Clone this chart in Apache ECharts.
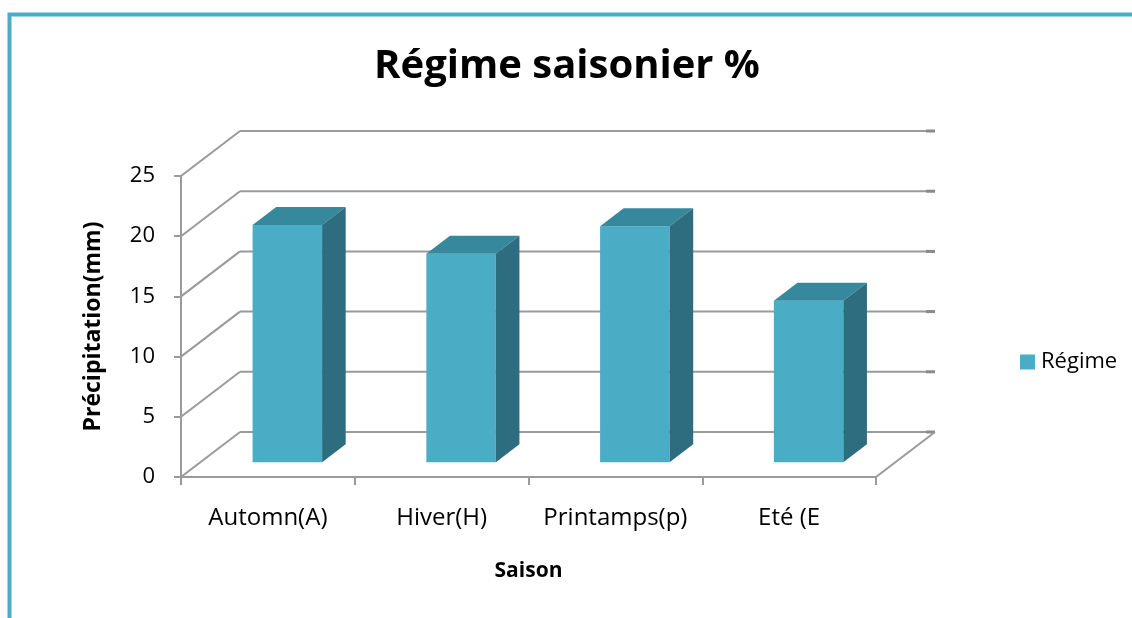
<!DOCTYPE html>
<html>
<head>
<meta charset="utf-8">
<script src="https://cdn.jsdelivr.net/npm/echarts@6/dist/echarts.min.js"></script>
<style>
  html, body { margin: 0; padding: 0; background: #fff; }
  #chart { width: 1132px; height: 618px; }
</style>
</head>
<body>
<div id="chart"></div>
<script>
  'use strict'
  /*-----data-----*/
  var saisons = ['Automn(A)', 'Hiver(H)', 'Printamps(p)', 'Eté (E'];
  var regime = [19.7, 17.3, 19.6, 13.4];
  var yTicks = [0, 5, 10, 15, 20, 25];

  /*-----3d look-----*/
  var DX = 59, DY = -45;          // depth offset of the back wall
  var D1 = 0.33, D2 = 0.73;       // bar depth (front / back, fraction of DX,DY)
  var BAR = 0.4;                  // bar width, fraction of the band
  var font = "'Open Sans', sans-serif";
  var gridColor = '#9a9a9a';

  function renderWalls(params, api) {
    var v = api.value(1);
    var band = api.size([1, 0])[0];
    var left = api.coord([0, v]);
    var right = api.coord([saisons.length - 1, v]);
    var xl = left[0] - band / 2, xr = right[0] + band / 2, y = left[1];
    var ls = { stroke: gridColor, lineWidth: 2 };
    var kids = [
      { type: 'line', shape: { x1: xl, y1: y, x2: xl + DX, y2: y + DY }, style: ls },
      { type: 'line', shape: { x1: xl + DX, y1: y + DY, x2: xr + DX, y2: y + DY }, style: ls },
      { type: 'line', shape: { x1: xr + DX - 9, y1: y + DY, x2: xr + DX, y2: y + DY }, style: { stroke: '#8a8a8a', lineWidth: 3 } }
    ];
    if (v === 0) {
      kids.push({ type: 'line', shape: { x1: xr, y1: y, x2: xr + DX, y2: y + DY }, style: ls });
    }
    return { type: 'group', children: kids };
  }

  function renderBar(params, api) {
    var i = api.value(0), v = api.value(1);
    var base = api.coord([i, 0]);
    var top = api.coord([i, v]);
    var band = api.size([1, 0])[0];
    var w = band * BAR;
    var x0 = base[0] - w / 2 + D1 * DX, x1 = x0 + w;
    var yb = base[1] + D1 * DY, yt = top[1] + D1 * DY;
    var ddx = (D2 - D1) * DX, ddy = (D2 - D1) * DY;
    return {
      type: 'group',
      children: [
        { type: 'rect', shape: { x: x0, y: yt, width: w, height: yb - yt }, style: { fill: '#4bacc6' } },
        { type: 'polygon', shape: { points: [[x0, yt], [x1, yt], [x1 + ddx, yt + ddy], [x0 + ddx, yt + ddy]] }, style: { fill: '#36889d' } },
        { type: 'polygon', shape: { points: [[x1, yt], [x1 + ddx, yt + ddy], [x1 + ddx, yb + ddy], [x1, yb]] }, style: { fill: '#2e6c7f' } }
      ]
    };
  }

  var chart = echarts.init(document.getElementById('chart'));

  var option = {
    backgroundColor: '#fff',
    animation: false,
    title: {
      text: 'Régime saisonier %',
      left: 562,
      textAlign: 'center',
      top: 42,
      textStyle: { fontFamily: font, fontSize: 40, fontWeight: 'bold', color: '#000' }
    },
    legend: {
      data: ['Régime'],
      left: 1015,
      top: 346,
      icon: 'rect',
      itemWidth: 15,
      itemHeight: 15,
      itemGap: 7,
      textStyle: { fontFamily: font, fontSize: 22, color: '#000', padding: [0, 0, 0, 1] }
    },
    grid: {
      left: 181,
      right: 256,
      top: 176,
      bottom: 141
    },
    xAxis: {
      type: 'category',
      data: saisons,
      name: 'Saison',
      nameLocation: 'middle',
      nameGap: 84,
      nameTextStyle: { fontFamily: font, fontSize: 21, fontWeight: 'bold', color: '#000' },
      axisLine: { lineStyle: { color: gridColor, width: 2 } },
      axisTick: { show: true, interval: 0, length: 8, lineStyle: { color: gridColor, width: 2 } },
      axisLabel: { interval: 0, fontFamily: font, fontSize: 24, color: '#000', margin: 29 },
      splitLine: { show: false }
    },
    yAxis: {
      type: 'value',
      min: 0,
      max: 25,
      interval: 5,
      name: 'Précipitation(mm)',
      nameLocation: 'middle',
      nameGap: 76,
      nameTextStyle: { fontFamily: font, fontSize: 23, fontWeight: 'bold', color: '#000' },
      axisLine: { show: true, lineStyle: { color: gridColor, width: 2 } },
      axisTick: { show: true, length: 7, lineStyle: { color: gridColor, width: 2 } },
      axisLabel: { fontFamily: font, fontSize: 22, color: '#000', margin: 26 },
      splitLine: { show: false }
    },
    series: [
      {
        name: 'walls',
        type: 'custom',
        silent: true,
        z: 1,
        renderItem: renderWalls,
        data: yTicks.map(function (v) { return [0, v]; })
      },
      {
        name: 'Régime',
        type: 'custom',
        z: 3,
        itemStyle: { color: '#4bacc6' },
        renderItem: renderBar,
        data: regime.map(function (v, i) { return [i, v]; })
      }
    ],
    graphic: [
      {
        type: 'rect',
        silent: true,
        shape: { x: 9.5, y: 14.5, width: 1300, height: 800 },
        style: { fill: 'none', stroke: '#4aacc6', lineWidth: 4 }
      }
    ]
  };

  chart.setOption(option);
</script>
</body>
</html>
